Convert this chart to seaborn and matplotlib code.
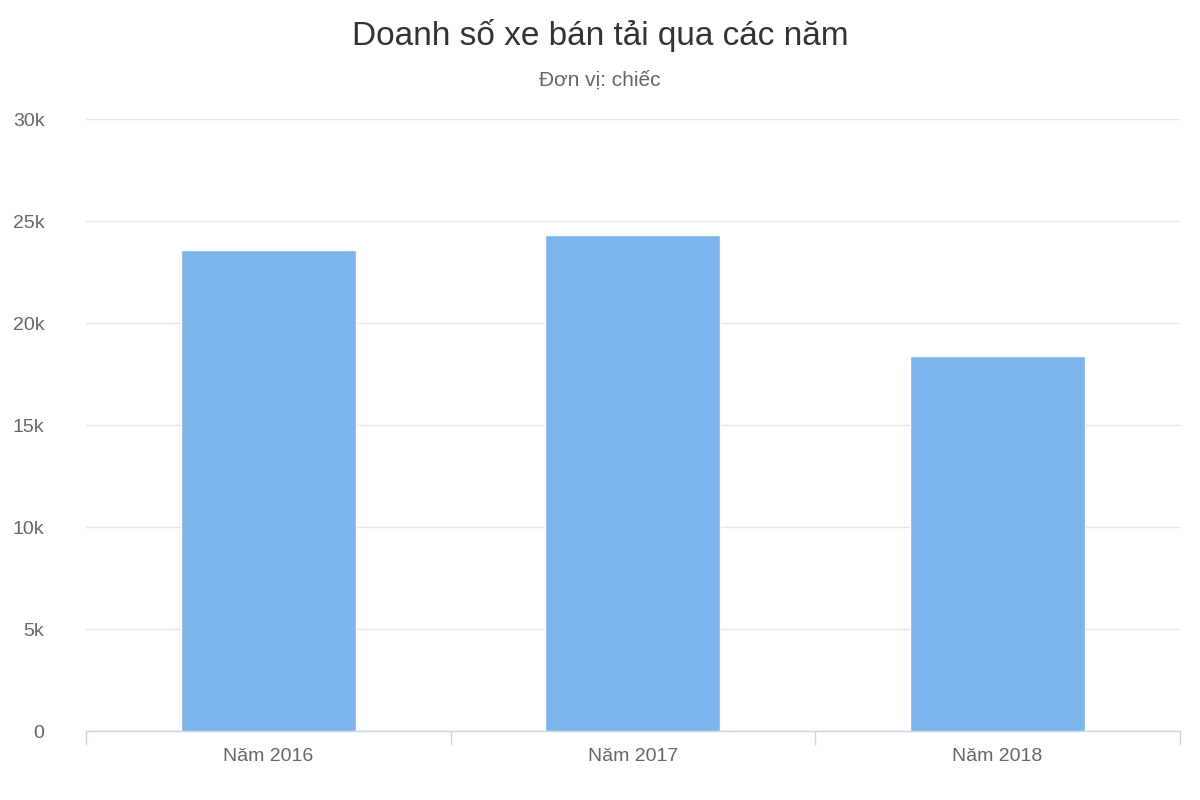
import matplotlib
matplotlib.use("Agg")
import matplotlib.pyplot as plt
import seaborn as sns
import pandas as pd

categories = ["Năm 2016", "Năm 2017", "Năm 2018"]
values = [23600, 24300, 18400]
yticks = [0, 5000, 10000, 15000, 20000, 25000, 30000]
ytick_labels = ["0", "5k", "10k", "15k", "20k", "25k", "30k"]

sns.set_theme(style="white")
plt.rcParams['font.family'] = ['Liberation Sans', 'DejaVu Sans']

df = pd.DataFrame({"cat": categories, "val": values})
fig = plt.figure(figsize=(12, 8), dpi=100)
ax = fig.add_axes([0.0717, 0.086, 0.9113, 0.765])
sns.barplot(data=df, x="cat", y="val", color="#7cb5ec", saturation=1, width=0.48, ax=ax, zorder=3)
ax.set_ylim(0, 30000)
ax.set_xlim(-0.5, 2.5)
ax.set_yticks(yticks)
ax.set_yticklabels(ytick_labels, fontsize=14, color="#666666")
ax.tick_params(axis="y", length=0, pad=30)
ax.yaxis.grid(True, color="#e6e6e6", linewidth=1, zorder=0)
for lab in ax.get_yticklabels():
    lab.set_horizontalalignment("right")
ax.set_xticks([0, 1, 2])
ax.set_xticklabels(categories, fontsize=14, color="#666666")
ax.set_xticks([-0.5, 0.5, 1.5, 2.5], minor=True)
ax.tick_params(axis="x", which="major", length=0, pad=12)
ax.tick_params(axis="x", which="minor", length=10, color="#ccd6eb", width=1, direction="out", bottom=True)
ax.set_xlabel("")
ax.set_ylabel("")
for s in ["top", "right", "left"]:
    ax.spines[s].set_visible(False)
ax.spines["bottom"].set_color("#ccd6eb")
ax.spines["bottom"].set_linewidth(1)

fig.text(0.5, 0.955, "Doanh số xe bán tải qua các năm", ha="center", va="center", fontsize=24, color="#333333")
fig.text(0.5, 0.9, "Đơn vị: chiếc", ha="center", va="center", fontsize=15, color="#666666")
fig.savefig("out.png", dpi=100, facecolor="white")
